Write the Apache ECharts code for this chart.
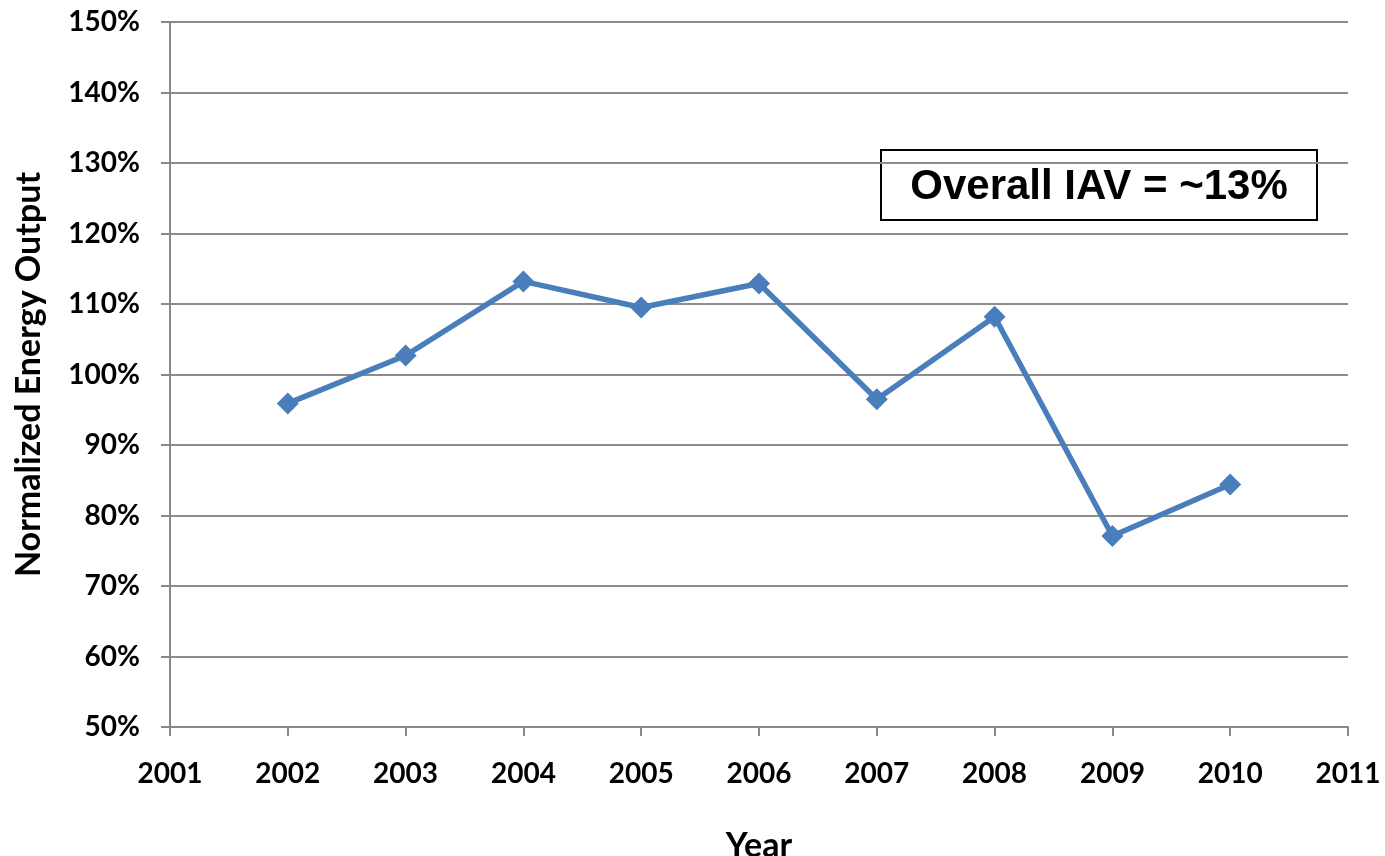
<!DOCTYPE html>
<html>
<head>
<meta charset="utf-8">
<script src="https://cdn.jsdelivr.net/npm/echarts@6/dist/echarts.min.js"></script>
<style>
  html, body { margin: 0; padding: 0; background: #fff; }
  #chart { width: 1385px; height: 856px; }
</style>
</head>
<body>
<div id="chart"></div>
<script>
// values (percent of normal)
var years = [2002, 2003, 2004, 2005, 2006, 2007, 2008, 2009, 2010];
var energy = [95.9, 102.7, 113.2, 109.5, 112.9, 96.5, 108.2, 77.1, 84.4];
var yTicks = [50, 150, 10];   // min, max, step
var xTicks = [2001, 2011, 1];
var noteText = 'Overall IAV = ~13%';

var lineColor = '#4A7EBB';
var font = 'Lato';

var chart = echarts.init(document.getElementById('chart'));
var option = {
  animation: false,
  grid: { left: 170, right: 37, top: 22, bottom: 129, outerBoundsMode: 'none' },
  xAxis: {
    type: 'value',
    min: xTicks[0], max: xTicks[1], interval: xTicks[2],
    name: 'Year',
    nameLocation: 'middle',
    nameGap: 102,
    nameTextStyle: { fontFamily: font, fontWeight: 'bold', fontSize: 34, color: '#000' },
    axisLine: { lineStyle: { color: '#888', width: 2 } },
    axisTick: { show: true, length: 9, lineStyle: { color: '#888', width: 2 } },
    axisLabel: {
      margin: 33, color: '#000', fontFamily: font, fontWeight: 'bold', fontSize: 28,
      formatter: function (v) { return String(v); }
    },
    splitLine: { show: false }
  },
  yAxis: {
    type: 'value',
    min: yTicks[0], max: yTicks[1], interval: yTicks[2],
    name: 'Normalized Energy Output',
    nameLocation: 'middle',
    nameGap: 124,
    nameTextStyle: { fontFamily: font, fontWeight: 'bold', fontSize: 34, color: '#000' },
    axisLine: { show: true, lineStyle: { color: '#888', width: 2 } },
    axisTick: { show: true, length: 9, lineStyle: { color: '#888', width: 2 } },
    axisLabel: {
      margin: 30, color: '#000', fontFamily: font, fontWeight: 'bold', fontSize: 28,
      formatter: '{value}%'
    },
    splitLine: { show: true, lineStyle: { color: '#8c8c8c', width: 2 } }
  },
  series: [{
    type: 'line',
    data: years.map(function (y, i) { return [y, energy[i]]; }),
    symbol: 'diamond',
    symbolSize: 22,
    lineStyle: { color: lineColor, width: 5.5 },
    itemStyle: { color: lineColor },
    z: 5
  }],
  graphic: [{
    type: 'group',
    left: 880, top: 149,
    children: [{
      type: 'rect',
      shape: { x: 0, y: 0, width: 436, height: 70 },
      style: { fill: '#fff', stroke: '#000', lineWidth: 2 }
    }, {
      type: 'text',
      x: 218, y: 37,
      style: {
        text: noteText,
        fill: '#000',
        font: 'bold 42px "Liberation Sans", Arial, sans-serif',
        textAlign: 'center',
        textVerticalAlign: 'middle'
      }
    }]
  }]
};
chart.setOption(option);
</script>
</body>
</html>
